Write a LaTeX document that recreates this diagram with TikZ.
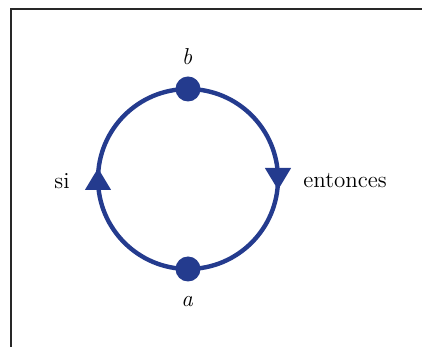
\documentclass[tikz,border=0pt]{standalone}
\usepackage{tikz}
\usetikzlibrary{arrows.meta,decorations.markings,positioning}
\definecolor{loopblue}{RGB}{36,59,142}
\definecolor{framegray}{RGB}{40,40,40}
\tikzset{
  loop dot/.style={circle,fill=loopblue,minimum size=12.5pt,inner sep=0pt},
  loop edge/.style={loopblue,line width=2.2pt,postaction={decorate},
    decoration={markings,mark=at position 0.5 with {\arrow[xshift=5.5pt]{Triangle[width=12.5pt,length=11pt]}}}},
  loop label/.style={font=\fontsize{11.5}{14}\selectfont},
}

\begin{document}
\begin{tikzpicture}[x=0.5pt,y=0.5pt]
  \useasboundingbox (0,0) rectangle (422,347);
  \draw[framegray,line width=1pt] (11,0)--(11,338)--(422,338);
  \node[loop dot] (b) at (188,258) {};
  \node[loop dot] (a) at (188,78) {};
  \draw[loop edge] (b.center) arc[start angle=90,end angle=-90,radius=90];
  \draw[loop edge] (a.center) arc[start angle=-90,end angle=-270,radius=90];
  \node[loop label] (lb) at (187,290) {\itshape b};
  \node[loop label] (la) at (187,45) {\itshape a};
  \node[loop label] (si) at (62,166) {si};
  \node[loop label] (ent) at (345,166) {entonces};
\end{tikzpicture}
\end{document}
